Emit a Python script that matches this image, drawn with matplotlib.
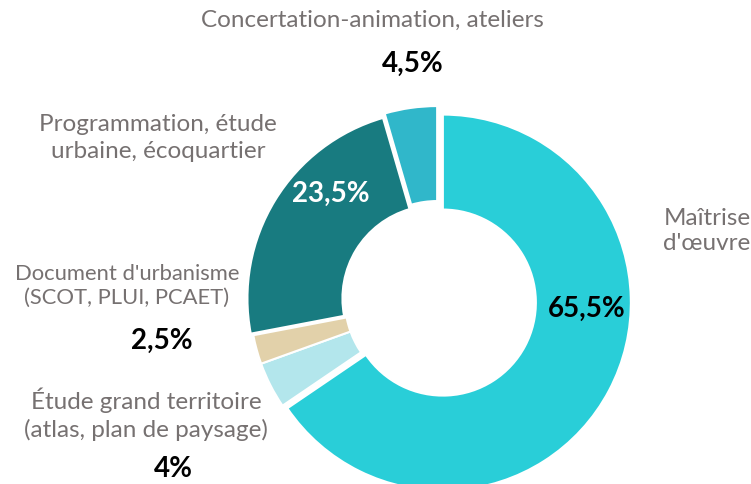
import numpy as np
import matplotlib.pyplot as plt

plt.rcParams['font.family'] = ['Lato', 'DejaVu Sans']

# data, clockwise from 12 o'clock
names = ["Maîtrise\nd'œuvre",
         "Étude grand territoire\n(atlas, plan de paysage)",
         "Document d'urbanisme\n(SCOT, PLUI, PCAET)",
         "Programmation, étude\nurbaine, écoquartier",
         "Concertation-animation, ateliers"]
values = [65.5, 4, 2.5, 23.5, 4.5]
colors = ['#29CED8', '#B3E6EC', '#E2D1AA', '#187B80', '#30B7CA']

def pct(v):
    s = ('%.1f' % v).rstrip('0').rstrip('.')
    return s.replace('.', ',') + '%'

W, H = 751, 484
fig = plt.figure(figsize=(W / 100, H / 100), dpi=100)
ax = fig.add_axes([0, 0, 1, 1])

# pixel-like coords, y up
cx, cy = 438, H - 300
R = 188
explode = [5.5, 0, 0, 3, 6]
ax.pie(values, colors=colors, startangle=90, counterclock=False,
       center=(cx, cy), radius=R, explode=explode,
       wedgeprops=dict(width=95, edgecolor='white', linewidth=1.5))
ax.set_xlim(0, W)
ax.set_ylim(0, H)
ax.set_aspect('equal')
ax.axis('off')

gray = '#767171'

# category labels (screen y -> H - y)
lab_pos = [(707, 231), (146, 414), (127, 286), (158, 138), (372, 20)]
lab_fs = [17.5, 17.5, 15.8, 17.5, 17.5]
lab_ls = [1.22, 1.3, 1.25, 1.3, 1.3]
for (x, y), t, fs, ls in zip(lab_pos, names, lab_fs, lab_ls):
    ax.text(x, H - y, t, ha='center', va='center', color=gray,
            fontsize=fs, linespacing=ls)

# value labels
val_pos = [(587, 309), (173, 469), (162, 341), (331, 194), (413, 64)]
val_col = ['black', 'black', 'black', 'white', 'black']
for (x, y), v, c in zip(val_pos, values, val_col):
    ax.text(x, H - y, pct(v), ha='center', va='center', color=c,
            fontsize=20, fontweight='bold')

fig.savefig('out.png', dpi=100)
